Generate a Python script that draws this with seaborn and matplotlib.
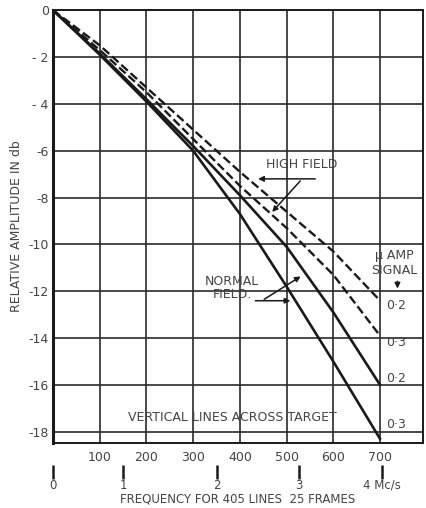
import matplotlib
matplotlib.use("Agg")
import matplotlib.pyplot as plt
import seaborn as sns
import pandas as pd

# ---- data ----
freq = [0, 100, 200, 300, 400, 500, 600, 700]
normal_03 = [0, -1.9, -3.9, -6.0, -8.7, -11.8, -15.0, -18.3]
normal_02 = [0, -1.85, -3.8, -5.8, -7.9, -10.1, -12.9, -16.0]
high_03 = [0, -1.7, -3.5, -5.5, -7.5, -9.3, -11.3, -13.9]
high_02 = [0, -1.5, -3.3, -5.1, -6.9, -8.6, -10.3, -12.4]

x_ticks = [100, 200, 300, 400, 500, 600, 700]
y_ticks = [0, -2, -4, -6, -8, -10, -12, -14, -16, -18]
y_tick_labels = ["0", "- 2", "- 4", "-6", "-8", "-10", "-12", "-14", "-16", "-18"]
mcs_labels = ["0", "1", "2", "3", "4 Mc/s"]
mcs_at_lines = [0, 150, 351, 527, 704]

end_labels = ["0·2", "0·3", "0·2", "0·3"]

rows = []
for name, vals in [("normal_03", normal_03), ("normal_02", normal_02),
                   ("high_03", high_03), ("high_02", high_02)]:
    for f, v in zip(freq, vals):
        rows.append({"freq": f, "db": v, "curve": name})
df = pd.DataFrame(rows)

sns.set_style("white")
plt.rcParams["font.family"] = ["DejaVu Sans"]
ink = "#1a1a1a"
txt = "#444444"

fig = plt.figure(figsize=(4.27, 5.08), dpi=100)
ax = fig.add_axes([0.124, 0.128, 0.867, 0.852])

for name, ls in [("normal_03", "-"), ("normal_02", "-"), ("high_03", "--"), ("high_02", "--")]:
    sub = df[df.curve == name]
    kw = dict(dashes=(3.2, 2.2)) if ls == "--" else {}
    sns.lineplot(data=sub, x="freq", y="db", ax=ax, color=ink,
                 lw=1.9 if ls == "-" else 1.7, linestyle=ls, legend=False, **kw)

ax.set_xlim(0, 792)
ax.set_ylim(-18.47, 0)
ax.set_xticks(x_ticks)
ax.set_xticklabels([str(v) for v in x_ticks])
ax.set_yticks(y_ticks)
ax.set_yticklabels(y_tick_labels)
ax.tick_params(axis="both", length=0, labelsize=9, labelcolor=txt)
ax.tick_params(axis="x", pad=6)
ax.tick_params(axis="y", pad=3)
ax.grid(True, color="#2a2a2a", lw=1.2)
ax.set_axisbelow(True)
for s in ax.spines.values():
    s.set_color(ink)
    s.set_linewidth(1.4)
ax.spines["left"].set_linewidth(2.2)
ax.set_xlabel("")
ax.set_ylabel("RELATIVE AMPLITUDE IN db", fontsize=9, color=txt, labelpad=4)

# secondary frequency scale
sec = ax.secondary_xaxis(-0.05)
sec.set_xticks(mcs_at_lines)
sec.set_xticklabels(mcs_labels)
sec.spines["bottom"].set_visible(False)
sec.tick_params(axis="x", direction="out", length=10, width=1.8, color=ink,
                labelsize=8.5, labelcolor=txt, pad=0)
sec.set_xlabel("FREQUENCY FOR 405 LINES  25 FRAMES", fontsize=8.5, color=txt, labelpad=1)

# annotations
ax.text(533, -6.6, "HIGH FIELD", fontsize=9, color=txt, ha="center", va="center")
arr = dict(arrowstyle="-|>", color=ink, lw=1.1, mutation_scale=8)
ax.annotate("", xy=(433, -7.2), xytext=(567, -7.2), arrowprops=arr)
ax.annotate("", xy=(465, -8.7), xytext=(533, -7.2), arrowprops=arr)

ax.text(383, -11.85, "NORMAL\nFIELD.", fontsize=9, color=txt, ha="center", va="center",
        linespacing=1.0)
ax.annotate("", xy=(514, -12.4), xytext=(427, -12.4), arrowprops=arr)
ax.annotate("", xy=(535, -11.3), xytext=(447, -12.4), arrowprops=arr)

ax.text(730, -10.45, "μ AMP", fontsize=9, color=txt, ha="center", va="center")
ax.text(730, -11.1, "SIGNAL", fontsize=9, color=txt, ha="center", va="center")
ax.annotate("", xy=(737, -12.0), xytext=(737, -11.45), arrowprops=arr)

label_y = [-12.6, -14.2, -15.7, -17.7]
for lab, yy in zip(end_labels, label_y):
    ax.text(712, yy, lab, fontsize=9, color=txt, ha="left", va="center")

ax.text(384, -17.4, "VERTICAL LINES ACROSS TARGET", fontsize=9, color=txt,
        ha="center", va="center")

fig.savefig("out.png", dpi=100)
